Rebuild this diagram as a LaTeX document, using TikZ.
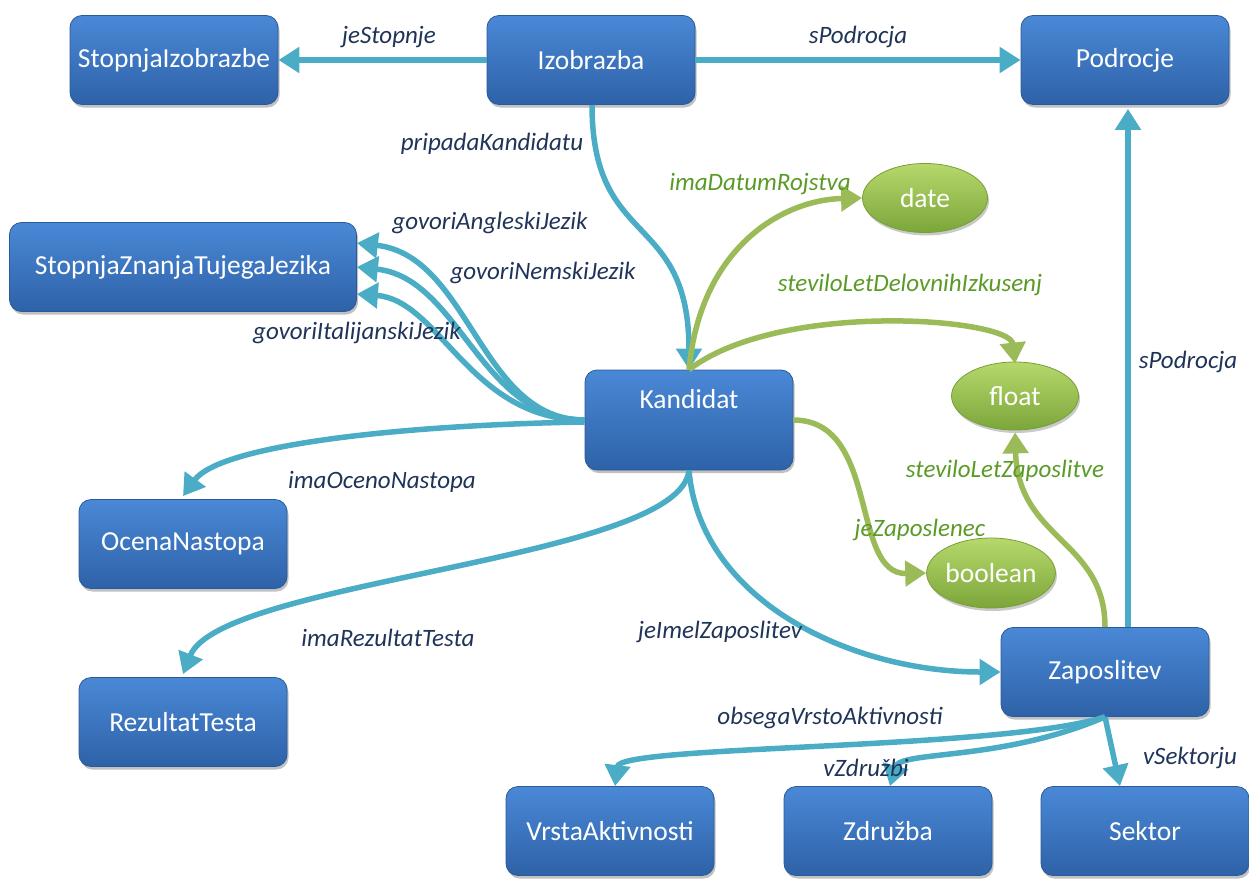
\documentclass[tikz,border=0pt]{standalone}
\usepackage{fontspec}
\setmainfont{Carlito}
\usetikzlibrary{arrows.meta,shadows,shapes.geometric}
\definecolor{boxtop}{HTML}{4A88D6}
\definecolor{boxbot}{HTML}{2E62A8}
\definecolor{boxedge}{HTML}{2B5A98}
\definecolor{elltop}{HTML}{B6D86C}
\definecolor{ellbot}{HTML}{7CA63A}
\definecolor{elledge}{HTML}{76A036}
\definecolor{relblue}{HTML}{4BACC6}
\definecolor{attrgreen}{HTML}{9BBB59}
\definecolor{labnavy}{HTML}{1F3458}
\definecolor{labgreen}{HTML}{5A9A26}
\tikzset{
  cls/.style={rounded corners=12pt, draw=boxedge, line width=0.8pt,
    top color=boxtop, bottom color=boxbot, text=white,
    font=\fontsize{27.5}{32}\selectfont, minimum width=208pt, minimum height=89pt,
    drop shadow={shadow xshift=1.5pt, shadow yshift=-3pt, opacity=0.35, fill=black!70}},
  dtype/.style={ellipse, draw=elledge, line width=0.8pt,
    top color=elltop, bottom color=ellbot, text=white, inner sep=0pt,
    font=\fontsize{27.5}{32}\selectfont,
    drop shadow={shadow xshift=1.5pt, shadow yshift=-3pt, opacity=0.3, fill=black!70}},
  rel/.style={line width=5.5pt, draw=relblue, -{Triangle[length=21pt,width=25pt]}},
  attr/.style={line width=5.5pt, draw=attrgreen, -{Triangle[length=21pt,width=25pt]}},
  rlab/.style={font=\fontsize{25}{30}\selectfont\itshape, text=labnavy, inner sep=0pt},
  alab/.style={font=\fontsize{25}{30}\selectfont\itshape, text=labgreen, inner sep=0pt}
}
\begin{document}
\begin{tikzpicture}[x=1pt,y=-1pt]
\useasboundingbox (0,0) rectangle (1249,878);

% classes
\node[cls] (si)  at (174,60)  {StopnjaIzobrazbe};
\node[cls] (izo) at (591,60)  {Izobrazba};
\node[cls] (pod) at (1125,60) {Podrocje};
\node[cls, minimum width=347pt] (szj) at (183,267) {StopnjaZnanjaTujegaJezika};
\node[cls, minimum height=100pt] (kan) at (689,420) {\smash{\raisebox{12pt}{Kandidat}}};
\node[cls] (ocn) at (183,544) {OcenaNastopa};
\node[cls] (rez) at (183,722) {RezultatTesta};
\node[cls] (zap) at (1105,672) {Zaposlitev};
\node[cls] (vrs) at (610,831) {VrstaAktivnosti};
\node[cls] (zdr) at (888,831) {Združba};
\node[cls] (sek) at (1145,831) {Sektor};

% datatypes
\node[dtype, minimum width=125pt, minimum height=69pt] (dat) at (925,198) {date};
\node[dtype, minimum width=127pt, minimum height=68pt] (flo) at (1015,396) {float};
\node[dtype, minimum width=118pt, minimum height=70pt] (boo) at (991,573) {boolean};

% object properties
\draw[rel] (izo.west) -- (si.east);
\draw[rel] (izo.east) -- (pod.west);
\draw[rel] ([xshift=1pt]izo.south) .. controls (592,250) and (689,210) .. (kan.north);
\draw[rel] (kan.west) .. controls (480,420) and (470,256) .. ([yshift=24pt]szj.east);
\draw[rel] (kan.west) .. controls (480,420) and (460,278) .. (szj.east);
\draw[rel] (kan.west) .. controls (470,420) and (440,300) .. ([yshift=-27pt]szj.east);
\draw[rel] ([yshift=-2pt]kan.west) .. controls (400,425) and (220,445) .. ([yshift=3pt]ocn.north);
\draw[rel] (kan.south) .. controls (680,560) and (220,580) .. ([yshift=3pt]rez.north);
\draw[rel] (kan.south) .. controls (700,600) and (850,672) .. (zap.west);
\draw[rel] ([xshift=23pt]zap.north) -- ([xshift=3pt,yshift=-4pt]pod.south);
\draw[rel] (zap.south) -- ([xshift=-25pt]sek.north);
\draw[rel] (zap.south) .. controls (1000,750) and (620,745) .. ([xshift=5pt]vrs.north);
\draw[rel] (zap.south) .. controls (1000,762) and (900,750) .. ([xshift=2pt]zdr.north);

% datatype properties
\draw[attr] (kan.north) .. controls (700,250) and (780,200) .. (dat.west);
\draw[attr] (kan.north) .. controls (780,300) and (1010,318) .. ([yshift=-2pt]flo.north);
\draw[attr] (kan.east) .. controls (880,420) and (850,575) .. (boo.west);
\draw[attr] (zap.north) .. controls (1105,540) and (1018,540) .. ([yshift=-2pt]flo.south);

% property labels
\node[rlab] (l1)  at (389,37)  {jeStopnje};
\node[rlab] (l2)  at (858,37)  {sPodrocja};
\node[rlab] (l3)  at (492,144) {pripadaKandidatu};
\node[rlab] (l4)  at (490,223) {govoriAngleskiJezik};
\node[rlab] (l5)  at (543,273) {govoriNemskiJezik};
\node[rlab] (l6)  at (357,333) {govoriItalijanskiJezik};
\node[rlab] (l7)  at (1188,362) {sPodrocja};
\node[rlab] (l8)  at (382,482) {imaOcenoNastopa};
\node[rlab] (l9)  at (388,638) {imaRezultatTesta};
\node[rlab] (l10) at (720,632) {jeImelZaposlitev};
\node[rlab] (l11) at (830,718) {obsegaVrstoAktivnosti};
\node[rlab] (l12) at (866,768) {vZdružbi};
\node[rlab] (l13) at (1190,758) {vSektorju};
\node[alab] (g1)  at (760,184) {imaDatumRojstva};
\node[alab] (g2)  at (910,285) {steviloLetDelovnihIzkusenj};
\node[alab] (g3)  at (1005,471) {steviloLetZaposlitve};
\node[alab] (g4)  at (920,530) {jeZaposlenec};
\end{tikzpicture}
\end{document}
